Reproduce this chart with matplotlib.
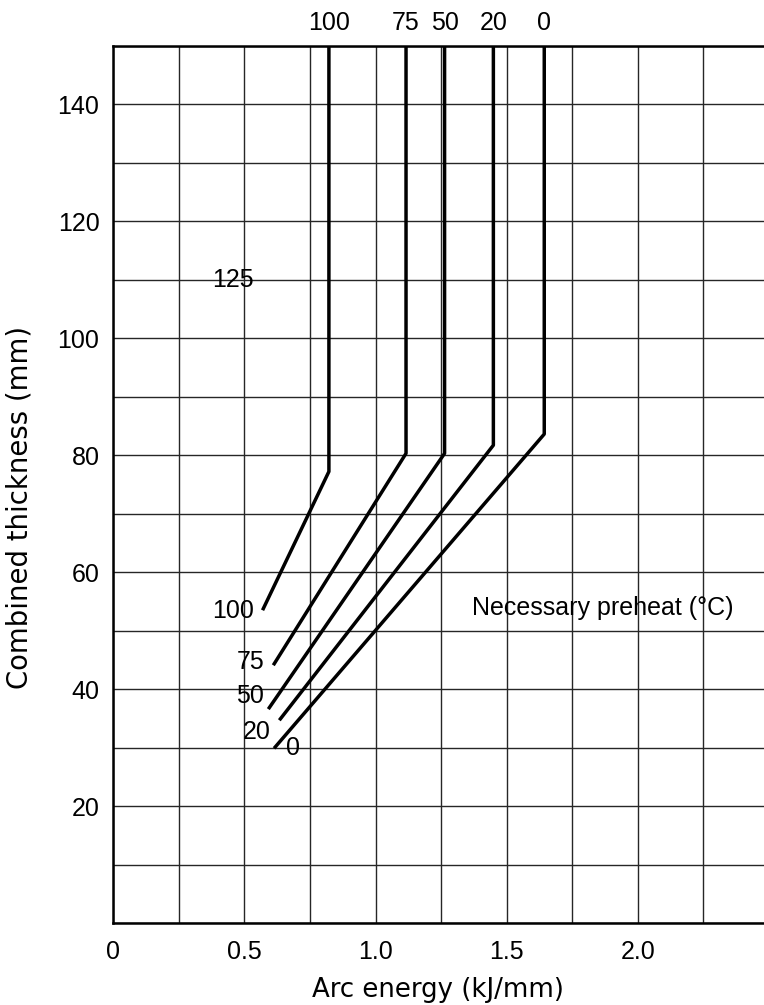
import numpy as np
import matplotlib.pyplot as plt

# preheat curves (deg C): vertical part x, knee y, lower end of the slanted part
preheat = [100, 75, 50, 20, 0]
vert_x = [0.822, 1.116, 1.263, 1.449, 1.643]
knee_y = [77.2, 80.3, 80.3, 81.7, 83.6]
end_x = [0.569, 0.610, 0.591, 0.633, 0.613]
end_y = [53.5, 44.1, 36.6, 34.7, 29.9]
top_y = 150

x_ticks = np.arange(0, 2.51, 0.25)
x_labels = ['0', '', '0.5', '', '1.0', '', '1.5', '', '2.0', '', '']
y_ticks = np.arange(0, 151, 10)
y_labels = ['' if (v % 20 or v == 0) else str(v) for v in y_ticks]

# lower labels next to line ends (label, x, y)
low_labels = [('125', 0.457, 110.0), ('100', 0.455, 53.4), ('75', 0.525, 44.7),
              ('50', 0.521, 38.8), ('20', 0.548, 32.7), ('0', 0.684, 29.9)]

num_font = ['Liberation Sans', 'DejaVu Sans']
num_size = 18

fig = plt.figure(figsize=(7.64, 10.05), dpi=100)
ax = fig.add_axes([0.1483, 0.0813, 0.8583, 0.8734])

for i in range(len(preheat)):
    ax.plot([end_x[i], vert_x[i], vert_x[i]], [end_y[i], knee_y[i], top_y],
            color='black', lw=2.5, solid_capstyle='butt', zorder=3)
    ax.text(vert_x[i], 153.9, str(preheat[i]), ha='center', va='center',
            fontsize=num_size, family=num_font, clip_on=False)

for lab, x, y in low_labels:
    ax.text(x, y, lab, ha='center', va='center', fontsize=num_size, family=num_font, zorder=4)

ax.text(1.367, 53.9, 'Necessary preheat (\u00b0C)', ha='left', va='center',
        fontsize=18, family=['Liberation Sans', 'DejaVu Sans'])

ax.set_xlim(0, 2.5)
ax.set_ylim(0, 150)
ax.set_xticks(x_ticks)
ax.set_xticklabels(x_labels, family=num_font, fontsize=num_size)
ax.set_yticks(y_ticks)
ax.set_yticklabels(y_labels, family=num_font, fontsize=num_size)
ax.tick_params(length=0)
ax.tick_params(axis='x', pad=12)
ax.tick_params(axis='y', pad=10)
ax.grid(True, color='0.15', lw=1.0)
ax.set_axisbelow(True)

for s in ['left', 'bottom', 'top']:
    ax.spines[s].set_linewidth(1.8)
ax.spines['right'].set_visible(False)

ax.set_xlabel('Arc energy (kJ/mm)', fontsize=18.7)
ax.set_ylabel('Combined thickness (mm)', fontsize=19.8)
ax.xaxis.set_label_coords(0.495, -0.0612)
ax.yaxis.set_label_coords(-0.121, 0.474)

fig.savefig('out.png', dpi=100)
